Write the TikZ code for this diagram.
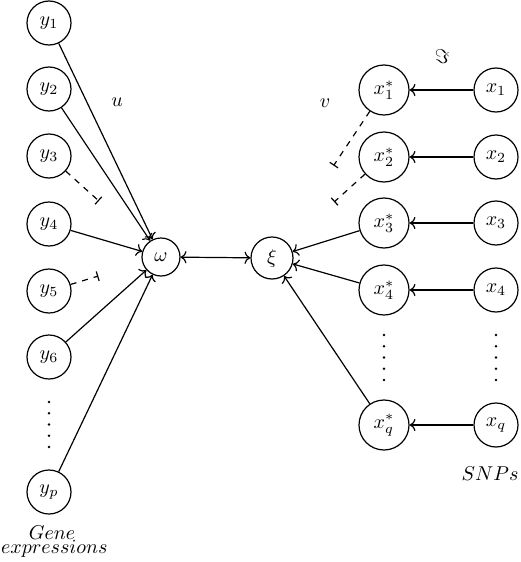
\documentclass[tikz,border=0pt]{standalone}
\usetikzlibrary{arrows.meta,calc}
\begin{document}
\begin{tikzpicture}[x=0.5pt,y=-0.5pt,line width=0.6pt,>={To},
  var/.style={circle,draw,minimum size=22pt,inner sep=0pt},
  starvar/.style={circle,draw,minimum size=25pt,inner sep=0pt},
  hub/.style={circle,draw,inner sep=0pt},
  cut/.style={dashed,-{Bar[width=5pt]}},
  lbl/.style={inner sep=0pt},
  dotmark/.style={fill,circle,inner sep=0pt,minimum size=1.3pt}]
\useasboundingbox (0,0) rectangle (520,562);
% left column
\node[var] (y1) at (49,23) {$y_1$};
\node[var] (y2) at (49,89) {$y_2$};
\node[var] (y3) at (49,156) {$y_3$};
\node[var] (y4) at (49,224) {$y_4$};
\node[var] (y5) at (49,291) {$y_5$};
\node[var] (y6) at (49,357) {$y_6$};
\node[var] (yp) at (49,492) {$y_p$};
% hubs
\node[hub,minimum size=19pt] (w) at (161,257) {$\omega$};
\node[hub,minimum size=21pt] (xi) at (272,258) {$\xi$};
% starred column
\node[starvar] (s1) at (384,90) {$x_1^*$};
\node[starvar] (s2) at (384,157) {$x_2^*$};
\node[starvar] (s3) at (384,223) {$x_3^*$};
\node[starvar] (s4) at (384,290) {$x_4^*$};
\node[starvar] (sq) at (384,425) {$x_q^*$};
% x column
\node[var] (x1) at (496,90) {$x_1$};
\node[var] (x2) at (496,157) {$x_2$};
\node[var] (x3) at (496,223) {$x_3$};
\node[var] (x4) at (496,290) {$x_4$};
\node[var] (xq) at (496,425) {$x_q$};
% dots
\foreach \k in {0,...,4} {
  \node[dotmark] at (49,402+11.25*\k) {};
  \node[dotmark] at (384,335+11.25*\k) {};
  \node[dotmark] at (496,335+11.25*\k) {};
}
% labels
\node[lbl] (lu) at (117,102) {$u$};
\node[lbl] (lv) at (325,103) {$v$};
\node[lbl] (lim) at (442,57) {$\Im$};
\node[lbl,anchor=base east] (snp) at (519,480) {$SNPs$};
\node[lbl,anchor=base] (gene) at (52,539) {$Gene$};
\node[lbl,anchor=base west] (expr) at (0.5,553) {$expressions$};
% solid edges into omega
\foreach \n in {y1,y2,y4,y6,yp} \draw[->] (\n) -- (w);
\draw[<->] (w) -- (xi);
\foreach \n in {s3,s4,sq} \draw[->] (\n) -- (xi);
\draw[->] (x1) -- (s1);
\draw[->] (x2) -- (s2);
\draw[->] (x3) -- (s3);
\draw[->] (x4) -- (s4);
\draw[->] (xq) -- (sq);
% truncated dashed edges
\coordinate (c3) at ($(y3)!0.445!(w)$);
\coordinate (c5) at ($(y5)!0.44!(w)$);
\coordinate (d1) at ($(s1)!0.45!(xi)$);
\coordinate (d2) at ($(s2)!0.445!(xi)$);
\draw[cut] (y3) -- (c3);
\draw[cut] (y5) -- (c5);
\draw[cut] (s1) -- (d1);
\draw[cut] (s2) -- (d2);
\end{tikzpicture}
\end{document}
